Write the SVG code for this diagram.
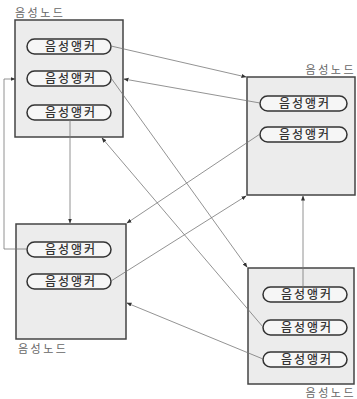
<svg xmlns="http://www.w3.org/2000/svg" width="357" height="399" viewBox="0 0 357 399">
<style>
.box{fill:#ececec;stroke:#444;stroke-width:1.5}
.pill{fill:#f6f6f6;stroke:#333;stroke-width:1.5}
.pt{font-family:"Noto Sans CJK KR",sans-serif;font-size:12px;fill:#333;text-anchor:middle;letter-spacing:2px;font-weight:500}
.lbl{font-family:"Noto Sans CJK KR",sans-serif;font-size:11px;fill:#666;letter-spacing:2.5px}
.c{fill:none;stroke:#777;stroke-width:0.8}
</style>
<defs>
<marker id="ah" viewBox="0 0 10 10" refX="9" refY="5" markerWidth="5" markerHeight="5" markerUnits="userSpaceOnUse" orient="auto">
<path d="M0,1 L10,5 L0,9 Z" fill="#333"/>
</marker>
</defs>
<g id="node1">
<text class="lbl" x="15" y="17">음성노드</text>
<rect class="box" x="15" y="20" width="108" height="117"/>
<rect class="pill" x="27" y="39" width="84" height="15" rx="7.5"/>
<text class="pt" x="71" y="51">음성앵커</text>
<rect class="pill" x="27" y="71" width="84" height="15" rx="7.5"/>
<text class="pt" x="71" y="83">음성앵커</text>
<rect class="pill" x="27" y="105" width="84" height="15" rx="7.5"/>
<text class="pt" x="71" y="117">음성앵커</text>
</g>
<g id="node2">
<text class="lbl" x="356" y="74" text-anchor="end">음성노드</text>
<rect class="box" x="247" y="77" width="108" height="118"/>
<rect class="pill" x="260" y="96" width="87" height="15" rx="7.5"/>
<text class="pt" x="305" y="108">음성앵커</text>
<rect class="pill" x="260" y="127" width="87" height="15" rx="7.5"/>
<text class="pt" x="305" y="139">음성앵커</text>
</g>
<g id="node3">
<rect class="box" x="16" y="224" width="110" height="115"/>
<rect class="pill" x="27" y="242" width="84" height="15" rx="7.5"/>
<text class="pt" x="71" y="254">음성앵커</text>
<rect class="pill" x="27" y="274" width="84" height="15" rx="7.5"/>
<text class="pt" x="71" y="286">음성앵커</text>
<text class="lbl" x="18" y="353">음성노드</text>
</g>
<g id="node4">
<rect class="box" x="248" y="268" width="106" height="116"/>
<rect class="pill" x="263" y="287" width="84" height="15" rx="7.5"/>
<text class="pt" x="307" y="299">음성앵커</text>
<rect class="pill" x="263" y="320" width="84" height="15" rx="7.5"/>
<text class="pt" x="307" y="332">음성앵커</text>
<rect class="pill" x="263" y="352" width="84" height="15" rx="7.5"/>
<text class="pt" x="307" y="364">음성앵커</text>
<text class="lbl" x="356" y="397" text-anchor="end">음성노드</text>
</g>
<g id="connectors">
<path class="c" d="M111,46 L246,77" marker-end="url(#ah)"/>
<path class="c" d="M260,103 L124,79" marker-end="url(#ah)"/>
<path class="c" d="M111,78 L247,267" marker-end="url(#ah)"/>
<path class="c" d="M263,327 L102,138" marker-end="url(#ah)"/>
<path class="c" d="M260,134 L127,223" marker-end="url(#ah)"/>
<path class="c" d="M111,281 L246,196" marker-end="url(#ah)"/>
<path class="c" d="M70,120 L70,223" marker-end="url(#ah)"/>
<path class="c" d="M27,249 L4,249 L4,79 L15,79" marker-end="url(#ah)"/>
<path class="c" d="M303,287 L303,196" marker-end="url(#ah)"/>
<path class="c" d="M263,359 L127,303" marker-end="url(#ah)"/>
</g>
</svg>
